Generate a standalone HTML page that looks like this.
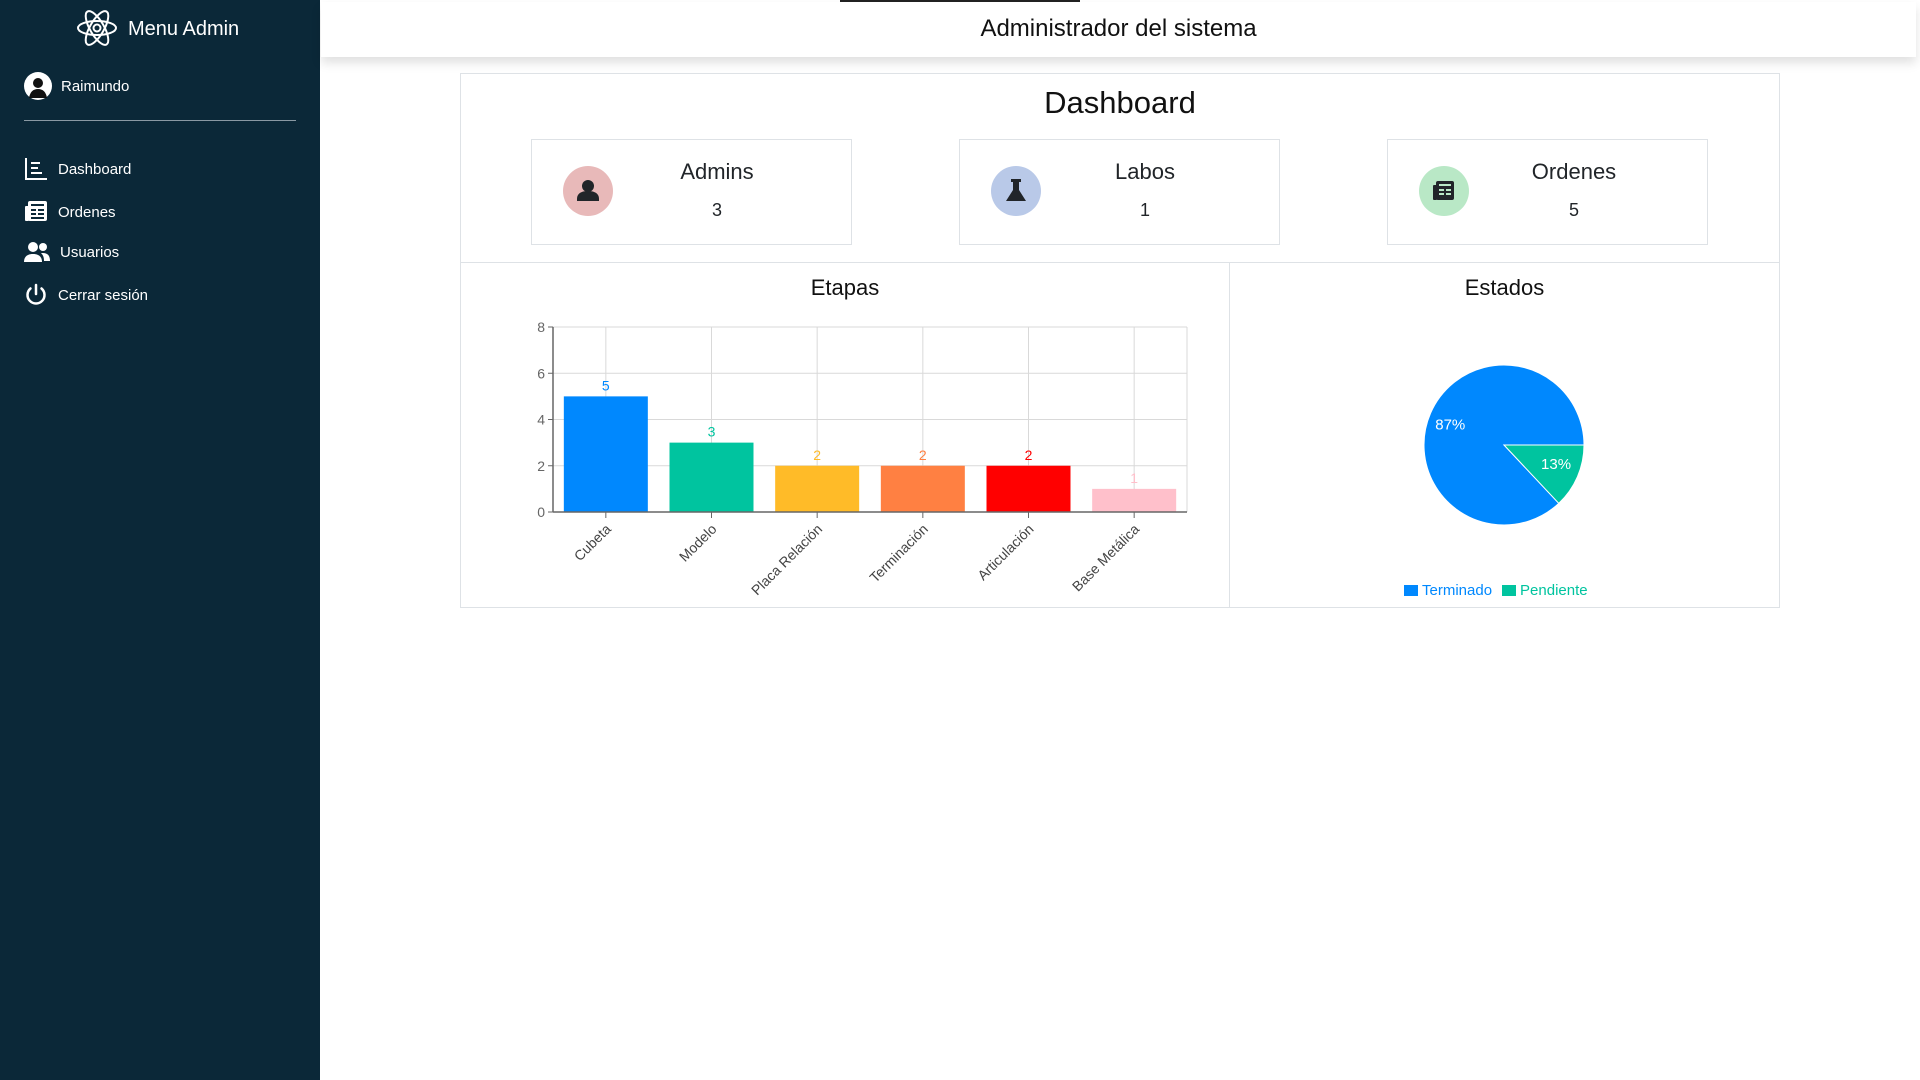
<!DOCTYPE html>
<html><head><meta charset="utf-8"><style>
*{box-sizing:border-box;margin:0;padding:0}
body{width:1920px;height:1080px;position:relative;background:#fff;font-family:"Liberation Sans",sans-serif;color:#212529;overflow:hidden}
.abs{position:absolute}
#sidebar{left:0;top:0;width:320px;height:1080px;background:#0b2838}
.side-item{position:absolute;left:24px;color:#fff;font-size:15px;display:flex;align-items:center;gap:10px}
#header{left:321px;top:2px;width:1595px;height:55px;background:#fff;box-shadow:0 6px 10px rgba(0,0,0,.12)}
.card{position:absolute;border:1px solid #dee2e6;background:#fff}
.stat-title{position:absolute;width:200px;text-align:center;font-size:22px}
.stat-val{position:absolute;width:200px;text-align:center;font-size:18px}
.icon-circle{position:absolute;width:50px;height:50px;border-radius:50%}
</style></head><body>
<div id="sidebar" class="abs">
  <svg class="abs" style="left:76px;top:8px" width="42" height="40" viewBox="0 0 42 40" fill="none" stroke="#fff" stroke-width="2">
    <ellipse cx="21" cy="20" rx="19" ry="7"/><ellipse cx="21" cy="20" rx="19" ry="7" transform="rotate(60 21 20)"/><ellipse cx="21" cy="20" rx="19" ry="7" transform="rotate(-60 21 20)"/><circle cx="21" cy="20" r="3.5"/>
  </svg>
  <div class="abs" style="left:128px;top:18px;color:#fff;font-size:20px">Menu Admin</div>
  <svg class="abs" style="left:24px;top:72px" width="28" height="28" viewBox="0 0 28 28"><circle cx="14" cy="14" r="14" fill="#fff"/><circle cx="14" cy="11" r="5" fill="#111"/><path d="M5 26c1-6 4-9 9-9s8 3 9 9z" fill="#111"/></svg>
  <div class="abs" style="left:61px;top:78px;color:#fff;font-size:15px">Raimundo</div>
  <div class="abs" style="left:24px;top:120px;width:272px;height:1px;background:#8a99a3"></div>
  <div class="side-item" style="top:157px"><svg width="24" height="24" viewBox="0 0 24 24" fill="none" stroke="#fff" stroke-width="2"><path d="M2 1v21h21M7 6h9M7 11h7M7 16h11"/></svg><span>Dashboard</span></div>
  <div class="side-item" style="top:200px"><svg width="24" height="24" viewBox="0 0 24 24"><rect x="4" y="1" width="19" height="20" rx="2" fill="#fff"/><rect x="1" y="6" width="4" height="15" rx="1" fill="#fff"/><path d="M7 5h13M7 10h5M14 10h6M7 14h5M14 14h6M7 18h13" stroke="#0b2838" stroke-width="2"/></svg><span>Ordenes</span></div>
  <div class="side-item" style="top:241px"><svg width="26" height="22" viewBox="0 0 26 22" fill="#fff"><circle cx="9" cy="6" r="5"/><path d="M0 21c0-6 4-8 9-8s9 2 9 8z"/><circle cx="19" cy="6" r="4"/><path d="M19 12c4 0 7 2 7 8h-6c0-4-1-6-3-8z"/></svg><span>Usuarios</span></div>
  <div class="side-item" style="top:283px"><svg width="24" height="24" viewBox="0 0 24 24" fill="none" stroke="#fff" stroke-width="2.5" stroke-linecap="round"><path d="M12 2v9"/><path d="M6.5 5.5a8.5 8.5 0 1 0 11 0"/></svg><span>Cerrar sesión</span></div>
</div>
<div class="abs" style="left:840px;top:0;width:240px;height:2px;background:#222"></div>
<div id="header" class="abs">
  <div style="position:absolute;left:0;width:1595px;top:13px;text-align:center;font-size:24px;color:#111">Administrador del sistema</div>
</div>
<div class="card" style="left:460px;top:73px;width:1320px;height:535px"></div>
<div class="abs" style="left:460px;top:85px;width:1320px;text-align:center;font-size:31px;color:#111">Dashboard</div>

<div class="card" style="left:531px;top:139px;width:321px;height:106px">
  <div class="icon-circle" style="left:31px;top:26px;background:#e8b9b9"><svg width="50" height="50" viewBox="0 0 50 50" fill="#212529"><circle cx="25" cy="20" r="6"/><path d="M14 33c0-6 5-8 11-8s11 2 11 8v2H14z"/></svg></div>
  <div class="stat-title" style="left:85px;top:19px">Admins</div>
  <div class="stat-val" style="left:85px;top:60px">3</div>
</div>
<div class="card" style="left:959px;top:139px;width:321px;height:106px">
  <div class="icon-circle" style="left:31px;top:26px;background:#b9c9e8"><svg width="50" height="50" viewBox="0 0 50 50" fill="#212529"><rect x="20" y="13" width="10" height="3"/><path d="M22 16h6v8l7 11H15l7-11z"/></svg></div>
  <div class="stat-title" style="left:85px;top:19px">Labos</div>
  <div class="stat-val" style="left:85px;top:60px">1</div>
</div>
<div class="card" style="left:1387px;top:139px;width:321px;height:106px">
  <div class="icon-circle" style="left:31px;top:26px;background:#b9e8c6"><svg width="50" height="50" viewBox="0 0 50 50"><rect x="17" y="15" width="18" height="19" rx="2" fill="#212529"/><rect x="14" y="19" width="4" height="15" rx="1" fill="#212529"/><path d="M20 19h12M20 24h5M27 24h5M20 28h5M27 28h5" stroke="#b9e8c6" stroke-width="2"/></svg></div>
  <div class="stat-title" style="left:86px;top:19px">Ordenes</div>
  <div class="stat-val" style="left:86px;top:60px">5</div>
</div>

<div class="card" style="left:460px;top:262px;width:770px;height:346px"></div>
<div class="card" style="left:1229px;top:262px;width:551px;height:346px"></div>
<div class="abs" style="left:460px;top:275px;width:770px;text-align:center;font-size:22px;color:#111">Etapas</div>
<div class="abs" style="left:1229px;top:275px;width:551px;text-align:center;font-size:22px;color:#111">Estados</div>

<svg id="bar" class="abs" style="left:0;top:0" width="1920" height="1080"></svg>
<svg id="pie" class="abs" style="left:0;top:0;pointer-events:none" width="1920" height="1080"></svg>

<div class="abs" style="left:1404px;top:582px;font-size:15px;display:flex;gap:10px">
  <span style="color:#0088fe;display:flex;align-items:center;gap:4px"><i style="width:14px;height:11px;background:#0088fe;display:inline-block"></i>Terminado</span>
  <span style="color:#00c49f;display:flex;align-items:center;gap:4px"><i style="width:14px;height:11px;background:#00c49f;display:inline-block"></i>Pendiente</span>
</div>

<script>
const categories=["Cubeta","Modelo","Placa Relación","Terminación","Articulación","Base Metálica"];
const values=[5,3,2,2,2,1];
const barColors=["#0088fe","#00c49f","#ffbb28","#ff8042","#ff0000","#ffc0cb"];
const yTicks=[0,2,4,6,8];
const pieLabels=["Terminado","Pendiente"];
const pieValues=[87,13];
const pieColors=["#0088fe","#00c49f"];

const NS="http://www.w3.org/2000/svg";
function mk(parent,tag,attrs){const e=document.createElementNS(NS,tag);for(const k in attrs)e.setAttribute(k,attrs[k]);parent.appendChild(e);return e;}
const L=553,R=1187,T=327,B=512,yMax=8;
const y=v=>B-(v/yMax)*(B-T);
const band=(R-L)/categories.length;
const xc=i=>L+band*(i+0.5);
const bar=document.getElementById('bar');
yTicks.forEach(t=>{
  const g=mk(bar,'line',{x1:L,x2:R,y1:y(t),y2:y(t),stroke:'#d9d9d9','stroke-width':1});
  
  
  mk(bar,'line',{x1:L-5,x2:L,y1:y(t),y2:y(t),stroke:'#666'});
  const tx=mk(bar,'text',{x:L-8,y:y(t)+5,'text-anchor':'end','font-size':14,fill:'#666'});
  tx.textContent=t;
  
  
});
categories.forEach((c,i)=>{
  mk(bar,'line',{x1:xc(i),x2:xc(i),y1:T,y2:B,stroke:'#d9d9d9'});
});
mk(bar,'line',{x1:R,x2:R,y1:T,y2:B,stroke:'#d9d9d9'});
categories.forEach((c,i)=>{
  const bw=84;
  const r=mk(bar,'rect',{x:xc(i)-bw/2,y:y(values[i]),width:bw,height:B-y(values[i]),fill:barColors[i]});
  
  
  const v=mk(bar,'text',{x:xc(i),y:y(values[i])-6,'text-anchor':'middle','font-size':14,fill:barColors[i]});
  v.textContent=values[i];
  
  
  mk(bar,'line',{x1:xc(i),x2:xc(i),y1:B,y2:B+6,stroke:'#666'});
  const lx=xc(i)+6,ly=B+18;
  const lb=mk(bar,'text',{x:lx,y:ly,'text-anchor':'end','font-size':14,fill:'#444',transform:`rotate(-45 ${lx} ${ly})`});
  lb.textContent=c;
  
  
});
mk(bar,'line',{x1:L,x2:L,y1:T,y2:B,stroke:'#666','stroke-width':1.5});
mk(bar,'line',{x1:L,x2:R,y1:B,y2:B,stroke:'#666','stroke-width':1.5});

const pie=document.getElementById('pie');
const cx=1504,cy=445,rad=80;
const total=pieValues.reduce((a,b)=>a+b,0);
let start=0;
pieValues.forEach((v,i)=>{
  const sweep=v/total*2*Math.PI;
  const a0=start,a1=start+sweep;
  const p0=[cx+rad*Math.cos(a0),cy-rad*Math.sin(a0)],p1=[cx+rad*Math.cos(a1),cy-rad*Math.sin(a1)];
  const large=sweep>Math.PI?1:0;
  const p=mk(pie,'path',{d:`M${cx},${cy}L${p0[0]},${p0[1]}A${rad},${rad} 0 ${large} 0 ${p1[0]},${p1[1]}Z`,fill:pieColors[i],stroke:'#fff','stroke-width':1});
  
  
  const mid=(a0+a1)/2;
  const f=i===0?0.65:0.6;
  const lt=mk(pie,'text',{x:cx+rad*f*Math.cos(mid)+(i===1?8:-6),y:cy-rad*f*Math.sin(mid)+5,'text-anchor':'middle','font-size':15,fill:'#fff'});
  lt.textContent=Math.round(v/total*100)+'%';
  
  
  start=a1;
});
</script>
</body></html>
